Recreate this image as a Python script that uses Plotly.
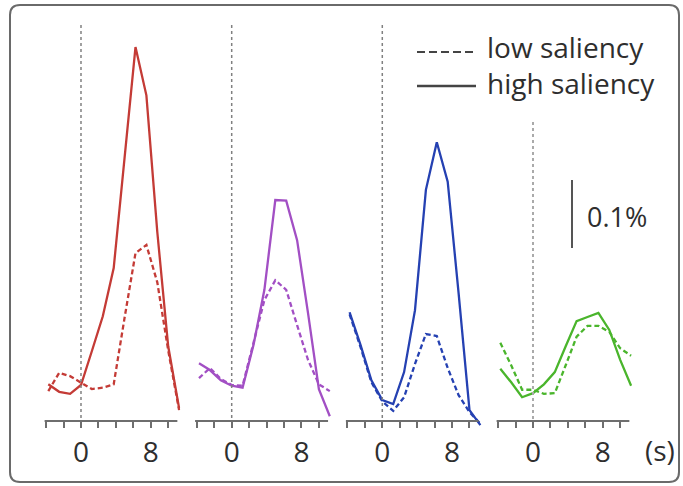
import plotly.graph_objects as go

# Time axis (s), one sample per 1.25 s
time_s = [-3.75, -2.5, -1.25, 0, 1.25, 2.5, 3.75, 5, 6.25, 7.5, 8.75, 10, 11.25]

# Signal change (%) per region, low vs high saliency
red_low = [-0.009, 0.018, 0.013, 0.003, -0.006, -0.004, 0.001, 0.099, 0.194, 0.206, 0.151, 0.051, -0.037]
red_high = [0.001, -0.010, -0.013, 0.000, 0.050, 0.101, 0.172, 0.334, 0.497, 0.426, 0.225, 0.057, -0.034]
purple_low = [0.010, 0.025, 0.009, 0.000, -0.001, 0.063, 0.125, 0.154, 0.140, 0.088, 0.037, 0.001, -0.009]
purple_high = [0.032, 0.022, 0.007, -0.001, -0.004, 0.059, 0.140, 0.272, 0.271, 0.213, 0.106, -0.006, -0.046]
blue_low = [0.104, 0.056, 0.004, -0.024, -0.038, -0.018, 0.031, 0.075, 0.072, 0.025, -0.015, -0.040, -0.057]
blue_high = [0.107, 0.059, 0.007, -0.022, -0.028, 0.019, 0.110, 0.287, 0.357, 0.299, 0.135, -0.037, -0.059]
green_low = [0.062, 0.029, -0.007, -0.007, -0.013, -0.012, 0.029, 0.071, 0.087, 0.087, 0.078, 0.054, 0.043]
green_high = [0.024, 0.004, -0.018, -0.012, 0.001, 0.019, 0.057, 0.094, 0.100, 0.106, 0.081, 0.037, -0.001]

tick_vals = [-4, -2, 0, 2, 4, 6, 8, 10]
tick_text = ["", "", "0", "", "", "", "8", ""]
legend_labels = ["low saliency", "high saliency"]
scale_label = "0.1%"
scale_value = 0.1
unit_label = "(s)"

panels = [
    (red_low, red_high, "#c43b36"),
    (purple_low, purple_high, "#a24fc4"),
    (blue_low, blue_high, "#2541b2"),
    (green_low, green_high, "#4ab52c"),
]

W, H = 683, 486
FONT = "Open Sans"
TEXT = "#2e2e2e"
AXIS = "#6e6e6e"

# pixel layout helpers
PX_PER_S = 8.72
ZERO_PX = [81, 231.7, 382.3, 533]
X_RANGE = [-4.2, 11.4]
BASE_PX = 385          # pixel row of 0 %
PX_PER_PCT = 680.0
AXIS_PX = 421


def fx(px):
    return px / W


def fy(py):
    return (H - py) / H


def val(py):
    return (BASE_PX - py) / PX_PER_PCT


fig = go.Figure()
shapes = []
annotations = []

for i, (low, high, color) in enumerate(panels):
    ax = "" if i == 0 else str(i + 1)
    z = ZERO_PX[i]
    d0 = z + X_RANGE[0] * PX_PER_S
    d1 = z + X_RANGE[1] * PX_PER_S
    fig.add_trace(go.Scatter(x=time_s, y=low, mode="lines", xaxis="x" + ax, yaxis="y",
                             line=dict(color=color, width=2.3, dash="5px,3px"),
                             showlegend=False, hoverinfo="skip"))
    fig.add_trace(go.Scatter(x=time_s, y=high, mode="lines", xaxis="x" + ax, yaxis="y",
                             line=dict(color=color, width=2.3),
                             showlegend=False, hoverinfo="skip"))
    fig.update_layout(**{
        "xaxis" + ax: dict(
            domain=[fx(d0), fx(d1)], range=X_RANGE, anchor="free", position=fy(AXIS_PX),
            showgrid=False, zeroline=False, showline=False,
            tickmode="array", tickvals=tick_vals, ticktext=tick_text,
            ticks="outside", ticklen=6, tickwidth=2, tickcolor=AXIS,
            ticklabelstandoff=0,
            tickfont=dict(family=FONT, size=28, color=TEXT),
        )
    })
    # axis baseline
    shapes.append(dict(type="line", xref="x" + ax, yref="y", x0=-4.2, x1=11.05,
                       y0=val(AXIS_PX), y1=val(AXIS_PX),
                       line=dict(color=AXIS, width=2)))
    # stimulus onset marker
    top = 25 if i < 3 else 122
    shapes.append(dict(type="line", xref="x" + ax, yref="y", x0=0, x1=0,
                       y0=val(top), y1=val(AXIS_PX),
                       line=dict(color="#808080" if i < 3 else "#aaaaaa",
                                 width=1.5 if i < 3 else 2, dash="dot")))

# legend
shapes.append(dict(type="line", xref="paper", yref="paper", x0=fx(417), x1=fx(476),
                   y0=fy(52), y1=fy(52), line=dict(color="#444444", width=2, dash="8px,4px")))
shapes.append(dict(type="line", xref="paper", yref="paper", x0=fx(417), x1=fx(476),
                   y0=fy(86), y1=fy(86), line=dict(color="#444444", width=2.5)))
annotations.append(dict(text="<br>".join(legend_labels), xref="paper", yref="paper",
                        x=fx(485), y=fy(65), xanchor="left", yanchor="middle", align="left",
                        showarrow=False, font=dict(family=FONT, size=28, color=TEXT)))

# scale bar
shapes.append(dict(type="line", xref="paper", yref="y", x0=fx(572), x1=fx(572),
                   y0=val(248), y1=val(248) + scale_value,
                   line=dict(color="#555555", width=2)))
annotations.append(dict(text=scale_label, xref="paper", yref="paper", x=fx(585), y=fy(216),
                        xanchor="left", yanchor="middle", showarrow=False,
                        font=dict(family=FONT, size=27, color=TEXT)))
annotations.append(dict(text=unit_label, xref="paper", yref="paper", x=fx(643), y=fy(450),
                        xanchor="left", yanchor="middle", showarrow=False,
                        font=dict(family=FONT, size=28, color=TEXT)))

# rounded frame
x0, x1, y0, y1, r = 10, 679, 5, 482, 10
rx, ry = r / W, r / H
path = (f"M {fx(x0)+rx},{fy(y0)} L {fx(x1)-rx},{fy(y0)} Q {fx(x1)},{fy(y0)} {fx(x1)},{fy(y0)-ry} "
        f"L {fx(x1)},{fy(y1)+ry} Q {fx(x1)},{fy(y1)} {fx(x1)-rx},{fy(y1)} "
        f"L {fx(x0)+rx},{fy(y1)} Q {fx(x0)},{fy(y1)} {fx(x0)},{fy(y1)+ry} "
        f"L {fx(x0)},{fy(y0)-ry} Q {fx(x0)},{fy(y0)} {fx(x0)+rx},{fy(y0)} Z")
shapes.append(dict(type="path", xref="paper", yref="paper", path=path,
                   line=dict(color="#6a6a6a", width=2)))

fig.update_layout(
    width=W, height=H, margin=dict(l=0, r=0, t=0, b=0),
    paper_bgcolor="white", plot_bgcolor="white",
    yaxis=dict(domain=[0, 1], range=[val(H), val(0)], visible=False),
    shapes=shapes, annotations=annotations, showlegend=False,
)

fig.write_html("out.html")
